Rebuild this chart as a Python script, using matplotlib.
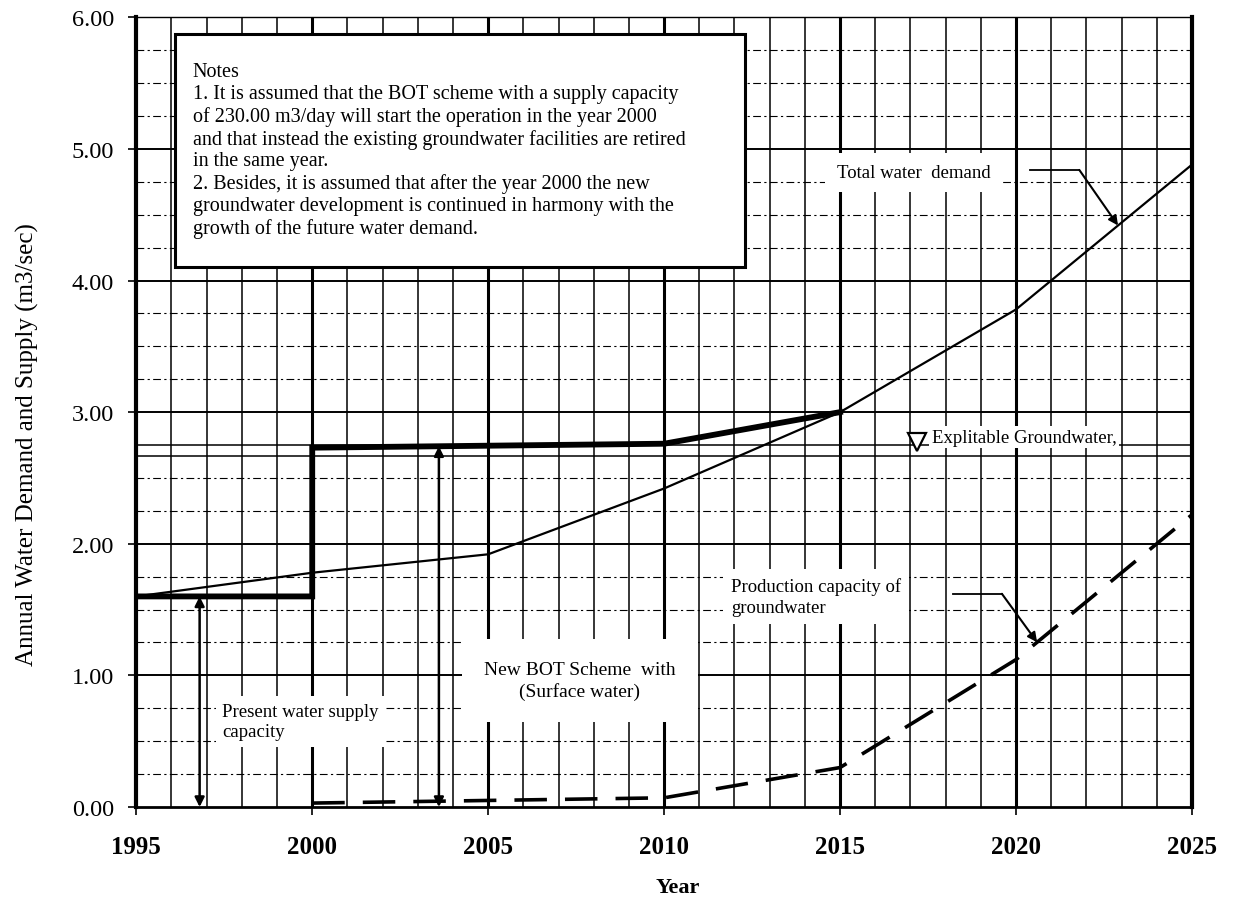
import numpy as np
import matplotlib
matplotlib.use("Agg")
import matplotlib.pyplot as plt
from matplotlib.patches import Rectangle

plt.rcParams['font.family'] = ['Liberation Serif', 'DejaVu Serif']

# ---------------- data ----------------
demand_years = [1995, 2000, 2005, 2010, 2015, 2020, 2025]
total_demand = [1.60, 1.78, 1.92, 2.42, 3.00, 3.78, 4.88]

supply_years = [1995, 2000, 2000, 2010, 2015]
supply_cap = [1.60, 1.60, 2.73, 2.76, 3.00]

prod_years = [2000, 2005, 2010, 2015, 2020, 2025]
prod_cap = [0.03, 0.05, 0.07, 0.30, 1.12, 2.22]

explitable_gw = 2.67
ref_line = 2.75

x_ticks = [1995, 2000, 2005, 2010, 2015, 2020, 2025]
y_ticks = [0, 1, 2, 3, 4, 5, 6]

notes_text = ("Notes\n"
              "1. It is assumed that the BOT scheme with a supply capacity\n"
              "of 230.00 m3/day will start the operation in the year 2000\n"
              "and that instead the existing groundwater facilities are retired\n"
              "in the same year.\n"
              "2. Besides, it is assumed that after the year 2000 the new\n"
              "groundwater development is continued in harmony with the\n"
              "growth of the future water demand.")

# ---------------- figure ----------------
fig = plt.figure(figsize=(12.39, 9.12), dpi=100)
ax = fig.add_axes([0.110, 0.114, 0.852, 0.866])
ax.set_xlim(1995, 2025)
ax.set_ylim(0, 6)

# grid: every year vertical, every 0.25 horizontal
for yr in np.arange(1996, 2025):
    lw = 2.2 if yr % 5 == 0 else 1.1
    ax.axvline(yr, color='k', lw=lw, zorder=1)
for v in np.arange(0.25, 6.0, 0.25):
    if abs(v - round(v)) < 1e-6:
        ax.axhline(v, color='k', lw=1.4, zorder=1)
    elif abs(v - ref_line) < 1e-6:
        ax.axhline(v, color='k', lw=1.1, zorder=1)
    else:
        ax.axhline(v, color='k', lw=0.8, dashes=(7, 3, 2, 3), zorder=1)
ax.axhline(explitable_gw, color='k', lw=1.1, zorder=1)

# data lines
ax.plot(demand_years, total_demand, color='k', lw=1.6, zorder=4)
ax.plot(supply_years, supply_cap, color='k', lw=4.2, zorder=4,
        solid_joinstyle='miter')
ax.plot(prod_years, prod_cap, color='k', lw=2.6, dashes=(9, 5), zorder=4)

# notes box
ax.add_patch(Rectangle((1996.1, 4.10), 16.2, 1.77, facecolor='white',
                       edgecolor='k', lw=2.2, zorder=6))
ax.text(1996.6, 5.66, notes_text, fontsize=14.5, va='top', ha='left',
        linespacing=1.2, zorder=7)

# total water demand label + leader
ax.text(2014.9, 4.82, "Total water  demand", fontsize=13.5, va='center',
        ha='left', bbox=dict(facecolor='white', edgecolor='none', pad=8), zorder=3)
ax.plot([2020.4, 2021.8], [4.84, 4.84], color='k', lw=1.3, zorder=5)
tx = 2022.9
ax.annotate("", xy=(tx, np.interp(tx, demand_years, total_demand)),
            xytext=(2021.8, 4.84),
            arrowprops=dict(arrowstyle='-|>', color='k', lw=1.5,
                            mutation_scale=14, shrinkA=0, shrinkB=0), zorder=5)

# explitable groundwater
ax.text(2017.6, 2.81, "Explitable Groundwater,", fontsize=13.5, va='center',
        ha='left', bbox=dict(facecolor='white', edgecolor='none', pad=2), zorder=3)
ax.plot([2017.2], [2.77], marker='v', ms=13, mfc='white', mec='k', mew=1.6,
        zorder=5)

# production capacity label + leader
ax.text(2011.9, 1.60, "Production capacity of\ngroundwater", fontsize=13.5,
        va='center', ha='left', linespacing=1.3,
        bbox=dict(facecolor='white', edgecolor='none', pad=6), zorder=3)
ax.plot([2018.2, 2019.6], [1.62, 1.62], color='k', lw=1.3, zorder=5)
px = 2020.6
ax.annotate("", xy=(px, np.interp(px, prod_years, prod_cap)),
            xytext=(2019.6, 1.62),
            arrowprops=dict(arrowstyle='-|>', color='k', lw=1.5,
                            mutation_scale=14, shrinkA=0, shrinkB=0), zorder=5)

# present supply capacity
ax.text(1997.45, 0.65, "Present water supply\ncapacity", fontsize=13.5,
        va='center', ha='left', linespacing=1.3,
        bbox=dict(facecolor='white', edgecolor='none', pad=5), zorder=3)
ax.annotate("", xy=(1996.8, 0.0), xytext=(1996.8, supply_cap[0]),
            arrowprops=dict(arrowstyle='<|-|>', color='k', lw=1.8,
                            mutation_scale=14, shrinkA=0, shrinkB=0), zorder=5)

# new BOT scheme
ax.text(2007.6, 0.96, "New BOT Scheme  with\n(Surface water)", fontsize=14,
        va='center', ha='center', linespacing=1.3,
        bbox=dict(facecolor='white', edgecolor='none', pad=16), zorder=3)
bx = 2003.6
ax.annotate("", xy=(bx, 0.0), xytext=(bx, np.interp(bx, supply_years[2:], supply_cap[2:])),
            arrowprops=dict(arrowstyle='<|-|>', color='k', lw=1.8,
                            mutation_scale=14, shrinkA=0, shrinkB=0), zorder=5)

# axes styling
ax.spines['left'].set_linewidth(3)
ax.spines['right'].set_linewidth(3)
ax.spines['bottom'].set_linewidth(2)
ax.spines['top'].set_linewidth(1)
for s in ax.spines.values():
    s.set_zorder(8)

ax.set_xticks(x_ticks)
ax.set_xticklabels([str(t) for t in x_ticks], fontsize=18, fontweight='bold')
ax.set_yticks(y_ticks)
ax.set_yticklabels([f"{t:.2f}" for t in y_ticks], fontsize=17.5)
ax.tick_params(axis='x', direction='out', length=6, width=1.2, pad=14)
ax.tick_params(axis='y', direction='out', length=6, width=1.2, pad=10)

ax.set_xlabel("Year", fontsize=16, fontweight='bold')
ax.xaxis.set_label_coords(0.513, -0.088)
ax.set_ylabel("Annual Water Demand and Supply (m3/sec)", fontsize=18)
ax.yaxis.set_label_coords(-0.092, 0.46)

fig.savefig("out.png", dpi=100)
